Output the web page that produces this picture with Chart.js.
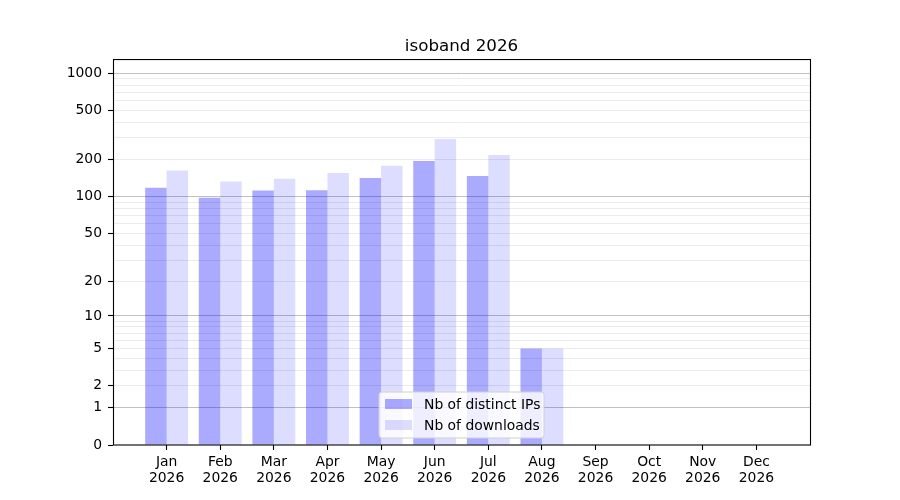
<!DOCTYPE html>
<html lang="en">
<head>
  <meta charset="UTF-8" />
  <title>isoband 2026</title>
  <script src="https://cdn.jsdelivr.net/npm/chart.js"></script>
  <style>
    body { margin: 0; background: #fff; }
  </style>
</head>
<body>
  <canvas id="downloadsChart" width="900" height="500"></canvas>

  <script>
    // data
    const months = ["Jan", "Feb", "Mar", "Apr", "May", "Jun", "Jul", "Aug", "Sep", "Oct", "Nov", "Dec"];
    const yearLabel = "2026";
    const distinctIps = [118, 98, 112, 113, 142, 195, 147, 5, 0, 0, 0, 0];
    const downloads = [163, 133, 140, 156, 178, 294, 218, 5, 0, 0, 0, 0];
    const yLabelled = [0, 1, 2, 5, 10, 20, 50, 100, 200, 500, 1000];
    const yMajor = [1, 10, 100, 1000];
    const yMax = 1278;

    // every gridline: 0, 1..9, 10..90, 100..900, 1000
    const yGrid = [0];
    [1, 10, 100].forEach(d => { for (let k = 1; k < 10; k++) yGrid.push(k * d); });
    yGrid.push(1000);

    const f = v => Math.log10(1 + Math.max(0, v));

    // log(1+x) value axis, like the original
    class Log1pScale extends Chart.LinearScale {
      static id = "log1p";
      static defaults = {};
      buildTicks() {
        return yGrid.map(v => ({ value: v }));
      }
      configure() {
        super.configure();
        this._fStart = f(this.min);
        this._fRange = f(this.max) - this._fStart;
      }
      getPixelForValue(value) {
        if (value === null || value === undefined) return NaN;
        return this.getPixelForDecimal((f(value) - this._fStart) / this._fRange);
      }
      getValueForPixel(pixel) {
        const d = this.getDecimalForPixel(pixel);
        return Math.pow(10, this._fStart + d * this._fRange) - 1;
      }
    }
    Chart.register(Log1pScale);

    const font = { family: "DejaVu Sans", size: 13.9, lineHeight: 1.1 };

    const framePlugin = {
      id: "frame",
      afterDraw(chart) {
        const { ctx, chartArea: a } = chart;
        ctx.save();
        ctx.strokeStyle = "#000";
        ctx.lineWidth = 1.1;
        ctx.strokeRect(a.left + 0.5, a.top - 0.5, a.right - a.left, a.bottom - a.top + 0.5);
        ctx.restore();
      }
    };

    const legendPlugin = {
      id: "boxLegend",
      afterDatasetsDraw(chart) {
        const { ctx, chartArea: a } = chart;
        const w = 165, h = 46;
        const x = (a.left + a.right) / 2 - w / 2;
        const y = a.bottom - 7 - h;
        ctx.save();
        ctx.beginPath();
        ctx.roundRect(x, y, w, h, 3);
        ctx.fillStyle = "rgba(255,255,255,0.8)";
        ctx.fill();
        ctx.strokeStyle = "#d0d0d0";
        ctx.lineWidth = 1;
        ctx.stroke();
        ctx.font = "13.9px 'DejaVu Sans'";
        ctx.textBaseline = "middle";
        chart.data.datasets.forEach((ds, i) => {
          const rowY = y + 7 + i * 21;
          ctx.fillStyle = ds.backgroundColor;
          ctx.fillRect(x + 6, rowY, 27, 10);
          ctx.fillStyle = "#000";
          ctx.fillText(ds.label, x + 45, rowY + 6);
        });
        ctx.restore();
      }
    };

    const ctx = document.getElementById("downloadsChart").getContext("2d");

    new Chart(ctx, {
      type: "bar",
      data: {
        datasets: [
          {
            label: "Nb of distinct IPs",
            data: distinctIps.map((v, i) => ({ x: i, y: v })),
            backgroundColor: "rgba(0, 0, 255, 0.333)",
            borderWidth: 0,
            categoryPercentage: 0.8,
            barPercentage: 1
          },
          {
            label: "Nb of downloads",
            data: downloads.map((v, i) => ({ x: i, y: v })),
            backgroundColor: "rgba(0, 0, 255, 0.133)",
            borderWidth: 0,
            categoryPercentage: 0.8,
            barPercentage: 1
          }
        ]
      },
      options: {
        responsive: false,
        animation: false,
        layout: { padding: { left: 0, right: 90, top: 0, bottom: 0 } },
        plugins: {
          legend: { display: false },
          tooltip: { enabled: false },
          title: {
            display: true,
            text: "isoband 2026",
            fullSize: false,
            color: "#000",
            font: { family: "DejaVu Sans", size: 16.7, weight: "normal", lineHeight: 1.2 },
            padding: { top: 37, bottom: 3 }
          }
        },
        scales: {
          x: {
            type: "linear",
            min: -1,
            max: 12,
            offset: false,
            afterBuildTicks: scale => {
              scale.ticks = months.map((m, i) => ({ value: i }));
            },
            afterFit: scale => { scale.height = 55; },
            border: { display: false },
            grid: {
              offset: false,
              drawOnChartArea: false,
              drawTicks: true,
              tickLength: 5,
              tickColor: "#000",
              tickWidth: 1.1
            },
            ticks: {
              autoSkip: false,
              maxRotation: 0,
              padding: 5,
              color: "#000",
              font: font,
              callback: value => [months[value], yearLabel]
            }
          },
          y: {
            type: "log1p",
            min: 0,
            max: yMax,
            afterFit: scale => { scale.width = 113; },
            border: { display: false },
            grid: {
              color: c => {
                const v = c.tick ? c.tick.value : null;
                if (v === 0) return "rgba(0,0,0,0)";
                return yMajor.includes(v) ? "#c0c0c0" : "#ebebeb";
              },
              lineWidth: 1,
              drawTicks: true,
              tickLength: 5,
              tickWidth: 1.1,
              tickColor: c => (c.tick && yLabelled.includes(c.tick.value) ? "#000" : "rgba(0,0,0,0)")
            },
            ticks: {
              autoSkip: false,
              padding: 6,
              color: "#000",
              font: font,
              callback: value => (yLabelled.includes(value) ? String(value) : "")
            }
          }
        }
      },
      plugins: [legendPlugin, framePlugin]
    });
  </script>
</body>
</html>
